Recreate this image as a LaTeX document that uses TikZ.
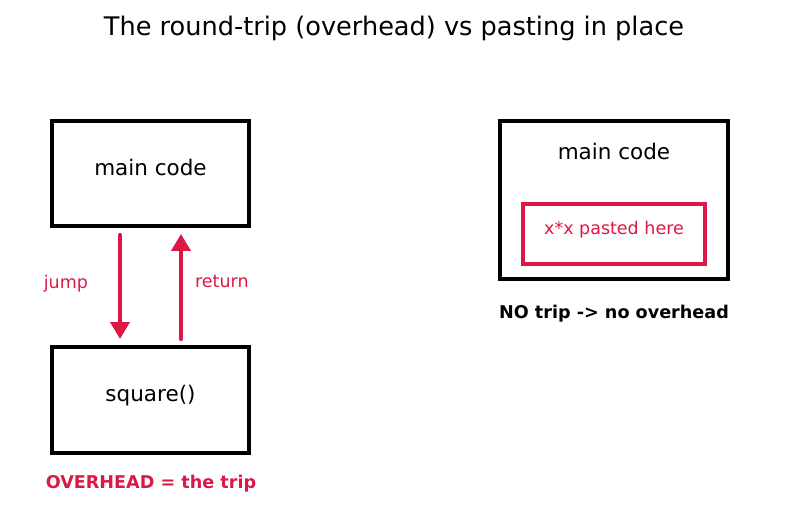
\documentclass[tikz,border=0pt]{standalone}
\usepackage{fontspec}
\setmainfont{DejaVu Sans}
\usepackage{xcolor}
\definecolor{tripCrimson}{RGB}{220, 25, 70}
\definecolor{boxBlack}{RGB}{0, 0, 0}
\usepackage{tikz}
\usetikzlibrary{
    arrows.meta,
    positioning,
    calc
}

\begin{document}
\begin{tikzpicture}[
    x=1pt, y=1pt,
    codeBox/.style={
        rectangle, draw=boxBlack, line width=4pt,
        fill=white, inner sep=0pt
    },
    pasteBox/.style={
        rectangle, draw=tripCrimson, line width=4pt,
        fill=white, inner sep=0pt
    },
    boxText/.style={
        font=\fontsize{21.5}{25}\selectfont, text=black,
        inner sep=0pt, anchor=center
    },
    tripArrow/.style={
        -{Triangle[length=17pt, width=19pt]}, line width=4.2pt,
        line cap=round, draw=tripCrimson
    },
    tripLabel/.style={
        font=\fontsize{17.5}{21}\selectfont, text=tripCrimson, inner sep=0pt
    },
    noteText/.style={
        font=\fontsize{17.6}{21}\selectfont\bfseries, inner sep=0pt
    },
    titleText/.style={
        font=\fontsize{25.6}{30}\selectfont, text=black, inner sep=0pt
    }
]
    \useasboundingbox (0, 0) rectangle (787, 512);

    % Title
    \node[titleText] (title) at (394, 484) {The round-trip (overhead) vs pasting in place};

    % Left side: call and return
    \node[codeBox, minimum width=197pt, minimum height=105pt] (callerBox) at (150.5, 338.5) {};
    \node[boxText] (callerText) at ([yshift=6pt]callerBox.center) {main code};

    \node[codeBox, minimum width=197pt, minimum height=106pt] (squareBox) at (150.5, 112) {};
    \node[boxText] (squareText) at ([yshift=4.5pt]squareBox.center) {square()};

    \node[noteText, text=tripCrimson] (overheadNote) at (151, 28) {OVERHEAD = the trip};

    % Right side: inlined code
    \node[codeBox, minimum width=228pt, minimum height=158pt] (inlineBox) at (614, 312) {};
    \node[boxText] (inlineText) at ([yshift=49pt]inlineBox.center) {main code};
    \node[pasteBox, minimum width=182pt, minimum height=60pt] (pastedBox) at (614, 278) {};
    \node[tripLabel] (pastedText) at ([yshift=4pt]pastedBox.center) {x*x pasted here};

    \node[noteText, text=black] (noTripNote) at (614, 198) {NO trip -> no overhead};

    % Connections
    \draw[tripArrow] ([xshift=-30.5pt, yshift=-7pt]callerBox.south)
        -- node[tripLabel, midway, left=30pt, yshift=3pt] {jump}
        ([xshift=-30.5pt, yshift=6pt]squareBox.north);
    \draw[tripArrow] ([xshift=30.5pt, yshift=6pt]squareBox.north)
        -- node[tripLabel, midway, right=12pt, yshift=5pt] {return}
        ([xshift=30.5pt, yshift=-6pt]callerBox.south);

\end{tikzpicture}
\end{document}
